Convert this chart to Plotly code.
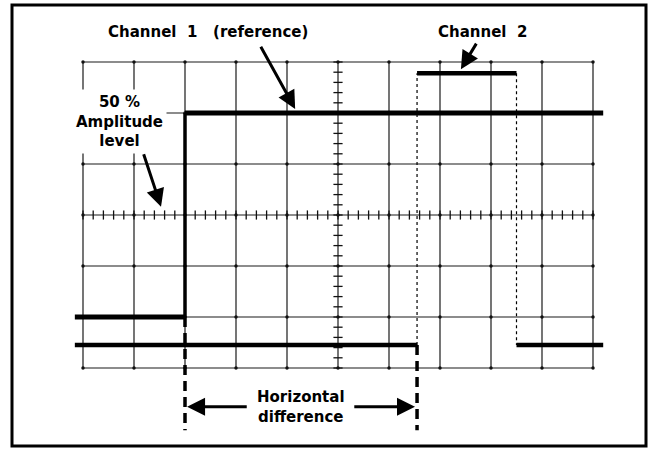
import plotly.graph_objects as go

# ---- data (graticule divisions: x 0..10 left->right, y -3..3 about centre) ----
grid_x = [0, 1, 2, 3, 4, 5, 6, 7, 8, 9, 10]
grid_y = [-3, -2, -1, 0, 1, 2, 3]

ch1_t = [-0.16, 2.0, 2.0, 10.2]
ch1_v = [-2.0, -2.0, 2.0, 2.0]

ch2_t = [-0.16, 6.55, 6.55, 8.5, 8.5, 10.2]
ch2_v = [-2.55, -2.55, 2.78, 2.78, -2.55, -2.55]

marker_x = [2.0, 6.55]          # 50 % crossing points (horizontal difference)
marker_top = [-2.0, -2.55]
marker_bottom = -4.22

labels = {
    "ch1": "Channel  1   (reference)",
    "ch2": "Channel  2",
    "amp": "50 %<br>Amplitude<br>level",
    "hd": "Horizontal<br>difference",
}

# ---- layout constants (pixels) ----
W, H = 648, 450
X0_PX, Y0_PX, DIV = 83, 215, 51
xr = [-X0_PX / DIV, (W - X0_PX) / DIV]
yr = [-(H - Y0_PX) / DIV, Y0_PX / DIV]

fig = go.Figure()

# graticule lines
gx, gy = [], []
for x in grid_x:
    gx += [x, x, None]
    gy += [grid_y[0], grid_y[-1], None]
for y in grid_y:
    gx += [grid_x[0], grid_x[-1], None]
    gy += [y, y, None]
fig.add_trace(go.Scatter(x=gx, y=gy, mode="lines",
                         line=dict(color="#1a1a1a", width=1.2),
                         hoverinfo="skip", showlegend=False))

# centre-line minor ticks (5 per division)
tx, ty = [], []
xc = grid_x[len(grid_x) // 2]
yc = grid_y[len(grid_y) // 2]
tl = 0.09
for k in range(grid_x[0] * 5, grid_x[-1] * 5 + 1):
    x = k / 5
    tx += [x, x, None]
    ty += [yc - tl, yc + tl, None]
for k in range(grid_y[0] * 5, grid_y[-1] * 5 + 1):
    y = k / 5
    tx += [xc - tl, xc + tl, None]
    ty += [y, y, None]
fig.add_trace(go.Scatter(x=tx, y=ty, mode="lines",
                         line=dict(color="#111", width=1.3),
                         hoverinfo="skip", showlegend=False))

# dots at intersections
dx = [x for x in grid_x for _ in grid_y]
dy = [y for _ in grid_x for y in grid_y]
fig.add_trace(go.Scatter(x=dx, y=dy, mode="markers",
                         marker=dict(color="#111", size=3.5),
                         hoverinfo="skip", showlegend=False))


def add_trace_segments(t, v, hw, vw, vdash):
    hx, hy, vx, vy = [], [], [], []
    for i in range(len(t) - 1):
        if v[i] == v[i + 1]:
            hx += [t[i], t[i + 1], None]
            hy += [v[i], v[i + 1], None]
        else:
            vx += [t[i], t[i + 1], None]
            vy += [v[i], v[i + 1], None]
    fig.add_trace(go.Scatter(x=vx, y=vy, mode="lines",
                             line=dict(color="black", width=vw, dash=vdash),
                             hoverinfo="skip", showlegend=False))
    fig.add_trace(go.Scatter(x=hx, y=hy, mode="lines",
                             line=dict(color="black", width=hw),
                             hoverinfo="skip", showlegend=False))


add_trace_segments(ch1_t, ch1_v, 5, 3.5, "solid")
add_trace_segments(ch2_t, ch2_v, 4.5, 1.2, "dot")

# dashed markers at the 50 % crossings
mx, my = [], []
for x, top in zip(marker_x, marker_top):
    mx += [x, x, None]
    my += [top, marker_bottom, None]
fig.add_trace(go.Scatter(x=mx, y=my, mode="lines",
                         line=dict(color="black", width=3.5, dash="10px,6px"),
                         hoverinfo="skip", showlegend=False))

font = dict(family="DejaVu Sans", size=15, color="black", weight="bold")

# text labels
fig.add_annotation(x=2.45, y=3.59, text=labels["ch1"], showarrow=False, font=font)
fig.add_annotation(x=7.84, y=3.59, text=labels["ch2"], showarrow=False, font=font)
fig.add_annotation(x=0.725, y=1.84, text=labels["amp"], showarrow=False, font=font,
                   bgcolor="white", borderpad=3, align="center")
hd_x = (marker_x[0] + marker_x[1]) / 2
fig.add_annotation(x=hd_x, y=-3.77, text=labels["hd"], showarrow=False, font=font,
                   bgcolor="white", align="center")

# pointer arrows
arrow = dict(showarrow=True, arrowhead=2, arrowsize=1.2, arrowwidth=3,
             arrowcolor="black", axref="x", ayref="y", text="")
fig.add_annotation(x=4.16, y=2.08, ax=3.47, ay=3.33, **arrow)
fig.add_annotation(x=7.41, y=2.86, ax=7.73, ay=3.39, **arrow)
fig.add_annotation(x=1.53, y=0.16, ax=1.18, ay=1.22, **arrow)
fig.add_annotation(x=marker_x[0] + 0.04, y=-3.76, ax=3.24, ay=-3.76, **arrow)
fig.add_annotation(x=marker_x[1] - 0.04, y=-3.76, ax=5.29, ay=-3.76, **arrow)

# outer frame
fig.add_shape(type="rect", xref="paper", yref="paper",
              x0=12 / W, x1=646 / W, y0=1 - 446 / H, y1=1 - 5 / H,
              line=dict(color="black", width=3))

fig.update_xaxes(range=xr, visible=False, fixedrange=True)
fig.update_yaxes(range=yr, visible=False, fixedrange=True)
fig.update_layout(width=W, height=H, margin=dict(l=0, r=0, t=0, b=0),
                  paper_bgcolor="white", plot_bgcolor="white",
                  showlegend=False)

fig.write_html("out.html",
               config={"displayModeBar": False, "staticPlot": True},
               post_script="document.body.style.margin='0';"
                           "document.body.style.overflow='hidden';")
